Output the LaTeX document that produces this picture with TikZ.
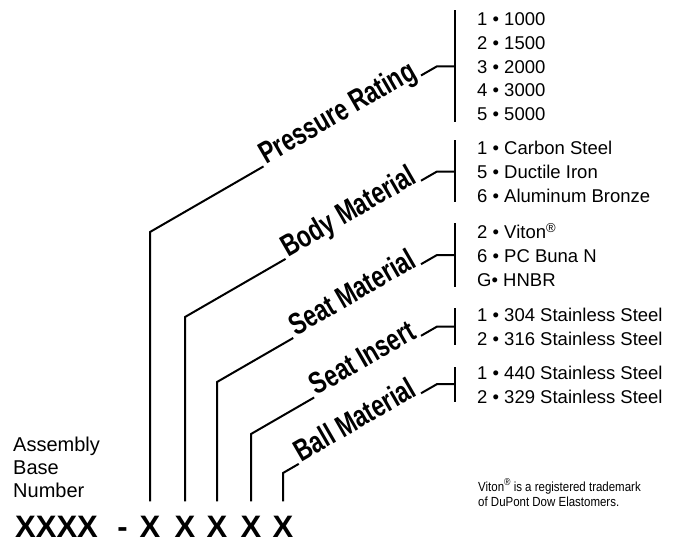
\documentclass[tikz,border=0pt]{standalone}
\usepackage{fontspec}
\setmainfont{Liberation Sans}
\newfontfamily\labfont[FakeStretch=0.75]{Liberation Sans}
\newfontfamily\notefont[FakeStretch=0.87]{Liberation Sans}
\begin{document}
\begin{tikzpicture}[x=1pt,y=-1pt,
  conn/.style={line width=2pt, line join=miter},
  brk/.style={line width=2.4pt},
  lab/.style={font=\labfont\bfseries\fontsize{30.5}{30.5}\selectfont, rotate=30, anchor=base east, inner xsep=3pt, inner ysep=0pt},
  item/.style={font=\fontsize{18.5}{22}\selectfont, anchor=base west, inner sep=0pt},
  side/.style={font=\fontsize{20}{23}\selectfont, anchor=base west, inner sep=0pt},
  code/.style={font=\bfseries\fontsize{31}{31}\selectfont, anchor=base, inner sep=0pt},
  note/.style={font=\notefont\fontsize{13.2}{15}\selectfont, anchor=base west, inner sep=0pt}]
\useasboundingbox (0,0) rectangle (675,544);

% left caption
\node[side] (asm) at (13,451.5) {Assembly};
\node[side] (bas) at (13,474.5) {Base};
\node[side] (num) at (13,497.5) {Number};

% code row
\node[code, anchor=base west] (base) at (15,537) {XXXX};
\node[code] (dash) at (122.5,537) {-};
\node[code] (xa) at (150,537) {X};
\node[code] (xb) at (185,537) {X};
\node[code] (xc) at (217,537) {X};
\node[code] (xd) at (251,537) {X};
\node[code] (xe) at (283,537) {X};

% corners
\coordinate (ca) at (150,232);
\coordinate (cb) at (185,317);
\coordinate (cc) at (217,382);
\coordinate (cd) at (251,434);
\coordinate (ce) at (283,473);

% labels (base east on the 30 degree line at x=421)
\node[lab] (la) at (421,75.5) {Pressure Rating};
\node[lab] (lb) at (421,180.7) {Body Material};
\node[lab] (lc) at (421,264.2) {Seat Material};
\node[lab] (ld) at (421,335.8) {Seat Insert};
\node[lab] (le) at (421,393.3) {Ball Material};

% hook points and bracket middles
\coordinate (ha) at (437,66.3);  \coordinate (ma) at (455,66.3);
\coordinate (hb) at (437,171.5); \coordinate (mb) at (455,171.5);
\coordinate (hc) at (437,255);   \coordinate (mc) at (455,255);
\coordinate (hd) at (437,326.6); \coordinate (md) at (455,326.6);
\coordinate (he) at (437,384.1); \coordinate (me) at (455,384.1);

% bracket ends
\coordinate (ta) at (455,10);  \coordinate (ea) at (455,122);
\coordinate (tb) at (455,140); \coordinate (eb) at (455,202);
\coordinate (tc) at (455,223); \coordinate (ec) at (455,287);
\coordinate (td) at (455,308); \coordinate (ed) at (455,345);
\coordinate (te) at (455,367); \coordinate (ee) at (455,402);

% connectors
\draw[conn] ([yshift=14pt]xa.north) -- (ca) -- (la.base west);
\draw[conn] ([yshift=14pt]xb.north) -- (cb) -- (lb.base west);
\draw[conn] ([yshift=14pt]xc.north) -- (cc) -- (lc.base west);
\draw[conn] ([yshift=14pt]xd.north) -- (cd) -- (ld.base west);
\draw[conn] ([yshift=14pt]xe.north) -- (ce) -- (le.base west);

\draw[conn] (la.base east) -- (ha) -- (ma);
\draw[conn] (lb.base east) -- (hb) -- (mb);
\draw[conn] (lc.base east) -- (hc) -- (mc);
\draw[conn] (ld.base east) -- (hd) -- (md);
\draw[conn] (le.base east) -- (he) -- (me);

\draw[brk] (ta) -- (ea);
\draw[brk] (tb) -- (eb);
\draw[brk] (tc) -- (ec);
\draw[brk] (td) -- (ed);
\draw[brk] (te) -- (ee);

% option lists
\node[item] (pa) at (477,25.5)  {1 • 1000};
\node[item] (pb) at (477,49.25) {2 • 1500};
\node[item] (pc) at (477,73)    {3 • 2000};
\node[item] (pd) at (477,96.75) {4 • 3000};
\node[item] (pe) at (477,120.5) {5 • 5000};

\node[item] (ba) at (477,154.5) {1 • Carbon Steel};
\node[item] (bb) at (477,178.5) {5 • Ductile Iron};
\node[item] (bc) at (477,202.5) {6 • Aluminum Bronze};

\node[item] (sa) at (477,238.5) {2 • Viton\textsuperscript{®}};
\node[item] (sb) at (477,262.5) {6 • PC Buna N};
\node[item] (sc) at (477,286.5) {G• HNBR};

\node[item] (ia) at (477,321.5) {1 • 304 Stainless Steel};
\node[item] (ib) at (477,345)   {2 • 316 Stainless Steel};

\node[item] (qa) at (477,379.5) {1 • 440 Stainless Steel};
\node[item] (qb) at (477,403.5) {2 • 329 Stainless Steel};

% footnote
\node[note] (fa) at (478,491) {Viton\raisebox{.42em}{\fontsize{10}{10}\selectfont ®} is a registered trademark};
\node[note] (fb) at (478,506.5) {of DuPont Dow Elastomers.};
\end{tikzpicture}
\end{document}
